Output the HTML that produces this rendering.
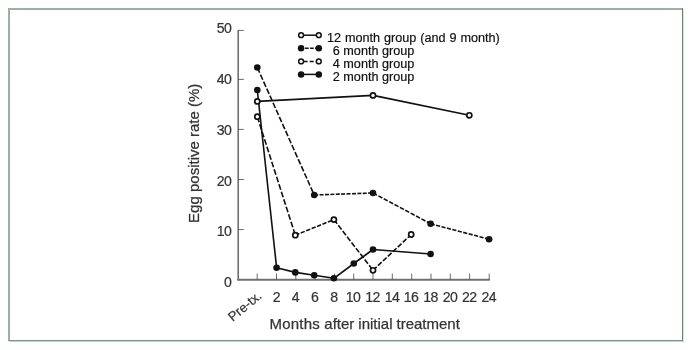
<!DOCTYPE html>
<html lang="en">
<head>
<meta charset="utf-8">
<title>Egg positive rate by months after initial treatment</title>
<style>
  html, body { margin: 0; padding: 0; background: #ffffff; }
  body { width: 692px; height: 350px; overflow: hidden; position: relative; }
  .b { position: absolute; }
  .bt { left: 8px; top: 8px; width: 675px; height: 2px; background: #98b3a0; }
  .bl { left: 8px; top: 8px; width: 2px; height: 333px; background: #98b3a0; }
  .br { left: 682px; top: 8px; width: 1px; height: 333px; background: #5f8b6c; }
  .br2 { left: 683px; top: 9px; width: 1px; height: 332px; background: #d6e3da; }
  .bb { left: 8px; top: 340px; width: 675px; height: 1px; background: #779c84; }
  .bb2 { left: 9px; top: 341px; width: 675px; height: 1px; background: #bfd2c5; }
  svg { position: absolute; left: 0; top: 0; will-change: transform; }
  text { font-family: "Liberation Sans", Arial, Helvetica, sans-serif; }
  .tick { font-size: 14.1px; letter-spacing: -0.6px; fill: #333333; stroke: #333333; stroke-width: 0.2px; }
  .axl  { font-size: 15px; fill: #333333; stroke: #333333; stroke-width: 0.25px; }
  .leg  { font-size: 12.65px; fill: #111111; stroke: #111111; stroke-width: 0.2px; }
</style>
</head>
<body>
<div class="b bt"></div><div class="b bl"></div><div class="b bb2"></div><div class="b br2"></div><div class="b bb"></div><div class="b br"></div>
<svg width="692" height="350" viewBox="0 0 692 350">
  <!-- axes -->
  <g stroke="#707070" fill="none">
    <path d="M238.2 30 V280.6" stroke-width="1.6"/>
    <path d="M237.4 279.7 H489.8" stroke-width="1.9"/>
    <g stroke-width="0.9" stroke="#5a5a5a">
      <path d="M238.2 30.4 H243.8 M238.2 79.4 H243.8 M238.2 129.4 H243.8 M238.2 179.5 H243.8 M238.2 229.6 H243.8"/>
      <path d="M257.2 273.6 V279.7 M276.5 273.6 V279.7 M295.8 273.6 V279.7 M315.1 273.6 V279.7 M334.4 273.6 V279.7 M353.7 273.6 V279.7 M373 273.6 V279.7 M392.3 273.6 V279.7 M411.7 273.6 V279.7 M431 273.6 V279.7 M450.3 273.6 V279.7 M469.6 273.6 V279.7 M489.2 273.6 V279.7"/>
    </g>
  </g>

  <!-- y tick labels -->
  <g class="tick" text-anchor="end" transform="translate(-0.5 0)">
    <text x="231.8" y="33.2">50</text>
    <text x="231.8" y="84">40</text>
    <text x="231.8" y="134.5">30</text>
    <text x="231.8" y="185.6">20</text>
    <text x="231.8" y="236">10</text>
    <text x="231.8" y="286.8">0</text>
  </g>

  <!-- x tick labels -->
  <g class="tick" text-anchor="middle" transform="translate(-0.4 0)">
    <text x="276.8" y="302.1">2</text>
    <text x="295.8" y="302.1">4</text>
    <text x="315.1" y="302.1">6</text>
    <text x="334.4" y="302.1">8</text>
    <text x="353.4" y="302.1">10</text>
    <text x="372.8" y="302.1">12</text>
    <text x="392.3" y="302.1">14</text>
    <text x="411.5" y="302.1">16</text>
    <text x="430.8" y="302.1">18</text>
    <text x="450.3" y="302.1">20</text>
    <text x="469.6" y="302.1">22</text>
    <text x="489.2" y="302.1">24</text>
  </g>
  <text class="tick" style="font-size:13.2px;letter-spacing:0" transform="translate(232.8 322) rotate(-40)">Pre-tx.</text>

  <!-- axis titles -->
  <text class="axl" y="328.75"><tspan x="269.4" letter-spacing="0.25">Months </tspan><tspan x="324.3">after </tspan><tspan x="358.3">initial </tspan><tspan x="396.5">treatment</tspan></text>
  <text class="axl" transform="translate(199.4 153.3) rotate(-90)" text-anchor="middle">Egg positive rate (%)</text>

  <!-- series -->
  <g stroke="#111111" stroke-width="1.6" fill="none" stroke-linejoin="round">
    <!-- 6 month group (dashed, filled) -->
    <path d="M257.3 67.5 L314.2 195" stroke-dasharray="5.72 2.00"/>
    <path d="M314.2 195 L373 193" stroke-dasharray="4.00 1.40"/>
    <path d="M373 193 L430.6 223.8" stroke-dasharray="4.52 1.58"/>
    <path d="M430.6 223.8 L489.1 239.2" stroke-dasharray="4.16 1.46"/>
    <!-- 4 month group (dashed, open) -->
    <path d="M257.3 116.7 L295.3 235.2" stroke-dasharray="5.84 2.04"/>
    <path d="M295.3 235.2 L333.9 219.6" stroke-dasharray="4.34 1.52"/>
    <path d="M333.9 219.6 L373 270.3" stroke-dasharray="5.34 1.87"/>
    <path d="M373 270.3 L411.2 234.5" stroke-dasharray="5.04 1.76"/>
    <!-- 12 month group (solid, open) -->
    <path d="M257.3 101.4 L373 95.4 L469.3 115.3"/>
    <!-- 2 month group (solid, filled) -->
    <path d="M257.3 90 L276.6 267.7 L295.3 272.4 L314.2 275.2 L333.9 278.3 L353.8 263.5 L373 249.5 L430.6 254"/>
  </g>
  <g fill="#111111" stroke="none">
    <circle cx="257.3" cy="67.5" r="3.3"/><circle cx="314.2" cy="195" r="3.3"/><circle cx="373" cy="193" r="3.3"/><circle cx="430.6" cy="223.8" r="3.3"/><circle cx="489.1" cy="239.2" r="3.3"/>
    <circle cx="257.3" cy="90" r="3.3"/><circle cx="276.6" cy="267.7" r="3.3"/><circle cx="295.3" cy="272.4" r="3.3"/><circle cx="314.2" cy="275.2" r="3.3"/><circle cx="333.9" cy="278.3" r="3.3"/><circle cx="353.8" cy="263.5" r="3.3"/><circle cx="373" cy="249.5" r="3.3"/><circle cx="430.6" cy="254" r="3.3"/>
  </g>
  <g fill="#ffffff" stroke="#111111" stroke-width="1.7">
    <circle cx="257.3" cy="116.7" r="2.55"/><circle cx="295.3" cy="235.2" r="2.55"/><circle cx="333.9" cy="219.6" r="2.55"/><circle cx="373" cy="270.3" r="2.55"/><circle cx="411.2" cy="234.5" r="2.55"/>
    <circle cx="257.3" cy="101.4" r="2.55"/><circle cx="373" cy="95.4" r="2.55"/><circle cx="469.3" cy="115.3" r="2.55"/>
  </g>

  <!-- legend -->
  <g stroke="#111111" stroke-width="1.5" fill="none">
    <path d="M301.1 35.2 H318.8"/>
    <path d="M300.1 48.3 H318.8" stroke-dasharray="3.6 1.4"/>
    <path d="M303.6 61.4 H318.8" stroke-dasharray="4 2.1"/>
    <path d="M301.1 74.4 H318.8"/>
  </g>
  <g fill="#ffffff" stroke="#111111" stroke-width="1.5">
    <circle cx="301.1" cy="35.2" r="2.4"/><circle cx="318.8" cy="35.2" r="2.4"/>
    <circle cx="301.1" cy="61.4" r="2.4"/><circle cx="318.8" cy="61.4" r="2.4"/>
  </g>
  <g fill="#111111">
    <circle cx="301.1" cy="48.3" r="3.25"/><circle cx="318.8" cy="48.3" r="3.25"/>
    <circle cx="301.1" cy="74.4" r="3.25"/><circle cx="318.8" cy="74.4" r="3.25"/>
  </g>
  <g class="leg">
    <text x="327" y="41.7" word-spacing="0.4">12 month group (and 9 month)</text>
    <text x="332.8" y="54.5">6 month group</text>
    <text x="332.8" y="67.6">4 month group</text>
    <text x="332.8" y="80.7">2 month group</text>
  </g>
</svg>
</body>
</html>
